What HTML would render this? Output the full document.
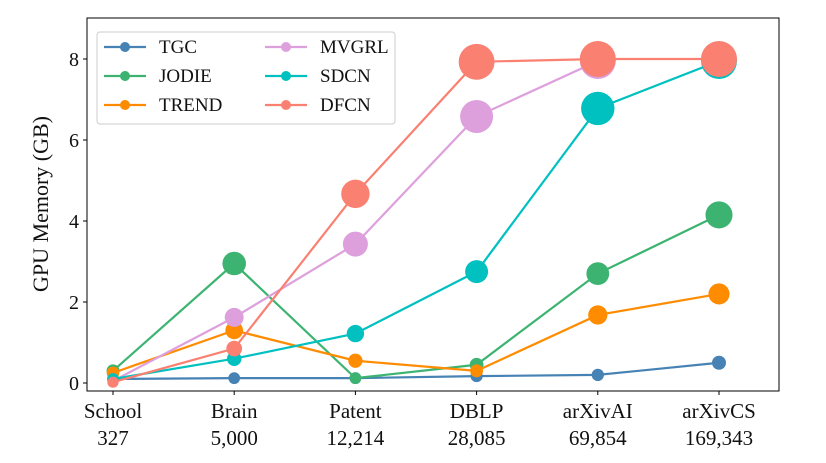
<!DOCTYPE html>
<html><head><meta charset="utf-8"><style>
body{margin:0;background:#fff}
svg text{font-family:"Liberation Serif",serif;fill:#111}
</style></head><body>
<svg id="chart" width="826" height="458" xmlns="http://www.w3.org/2000/svg">
<rect x="87" y="18" width="692" height="373" fill="none" stroke="#000" stroke-width="1"/>
<g id="yticks"></g><g id="xticks"></g><g id="series"></g>
<text x="48" y="204" font-size="22" text-anchor="middle" transform="rotate(-90 48 204)">GPU Memory (GB)</text>
<g id="legend">
<rect x="97" y="32" width="298" height="92" rx="3" fill="#fff" stroke="#ccc"/>
</g>
</svg>
<script>
const categories=["School","Brain","Patent","DBLP","arXivAI","arXivCS"];
const sizes=["327","5,000","12,214","28,085","69,854","169,343"];
const yTicks=[0,2,4,6,8];
const seriesNames=["TGC","JODIE","TREND","MVGRL","SDCN","DFCN"];
const colors=["#4682b4","#3cb371","#ff8c00","#dda0dd","#00c0c0","#fa8072"];
const tgc=[0.1,0.12,0.12,0.17,0.2,0.5];
const jodie=[0.3,2.95,0.12,0.45,2.7,4.15];
const trend=[0.25,1.3,0.55,0.3,1.68,2.2];
const mvgrl=[0.05,1.62,3.43,6.58,7.95];
const sdcn=[0.1,0.6,1.22,2.75,6.78,7.95];
const dfcn=[0.02,0.85,4.67,7.93,8.0,8.0];
const allSeries=[tgc,jodie,trend,mvgrl,sdcn,dfcn];
const NS="http://www.w3.org/2000/svg";
const xs=i=>113+i*121.2;
const ys=v=>383-v*40.5;
const rad=v=>Math.sqrt(30.6+36.7*v);
function mk(tag,attrs,parent){const e=document.createElementNS(NS,tag);for(const k in attrs)e.setAttribute(k,attrs[k]);parent.appendChild(e);return e;}
const yt=document.getElementById('yticks');
yTicks.forEach(t=>{
 const l=mk('line',{x1:83,x2:87,y1:ys(t),y2:ys(t),stroke:'#000'},yt);
 
 
 const tx=mk('text',{x:79,y:ys(t)+7,'font-size':20,'text-anchor':'end'},yt);tx.textContent=t;
 
 
});
const xt=document.getElementById('xticks');
categories.forEach((c,i)=>{
 const l=mk('line',{x1:xs(i),x2:xs(i),y1:391,y2:395,stroke:'#000'},xt);
 
 
 const t1=mk('text',{x:xs(i),y:418,'font-size':21,'text-anchor':'middle'},xt);t1.textContent=c;
 
 
 const t2=mk('text',{x:xs(i),y:445,'font-size':21,'text-anchor':'middle'},xt);t2.textContent=sizes[i];
 
 
});
const sg=document.getElementById('series');
allSeries.forEach((d,s)=>{
 const g=mk('g',{},sg);
 
 
 const pl=mk('polyline',{points:d.map((v,i)=>xs(i)+','+ys(v)).join(' '),fill:'none',stroke:colors[s],'stroke-width':2.2},g);
 
 
 d.forEach((v,i)=>{
  const c=mk('circle',{cx:xs(i),cy:ys(v),r:rad(v),fill:colors[s]},g);
  
  
 });
});
const lg=document.getElementById('legend');
seriesNames.forEach((n,s)=>{
 const col=Math.floor(s/3),row=s%3;
 const x0=col?265:104,y0=47+row*29;
 const g=mk('g',{},lg);
 
 
 mk('line',{x1:x0,x2:x0+42,y1:y0,y2:y0,stroke:colors[s],'stroke-width':2.2},g);
 mk('circle',{cx:x0+21,cy:y0,r:5,fill:colors[s]},g);
 const t=mk('text',{x:x0+55,y:y0+6,'font-size':19},g);t.textContent=n;
});
</script>
</body></html>
